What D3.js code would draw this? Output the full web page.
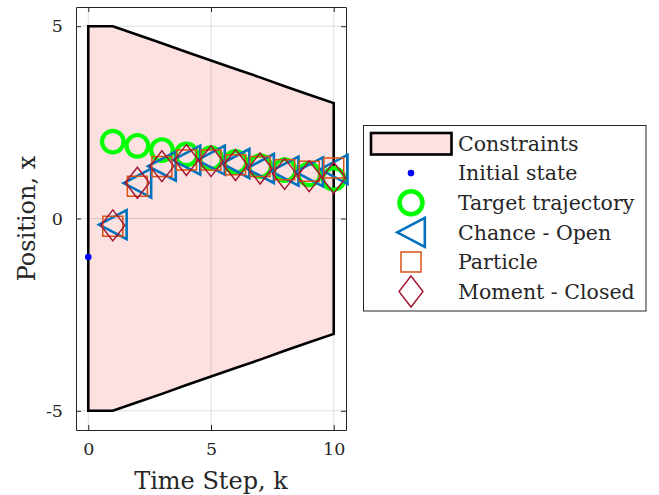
<!DOCTYPE html>
<html><head><meta charset="utf-8">
<script src="https://cdn.jsdelivr.net/npm/d3@7"></script>
<style>body{margin:0;background:#fff}svg{display:block}text{font-family:"DejaVu Serif",serif;fill:#262626}</style>
</head><body>
<svg id="c" width="659" height="495"></svg>
<script>
const steps = [1,2,3,4,5,6,7,8,9,10];
const constraintK = [0,1,2,3,4,5,6,7,8,9,10];
const upperBound = [5,5,4.78,4.56,4.33,4.11,3.89,3.67,3.44,3.22,3.0];
const lowerBound = [-5,-5,-4.78,-4.56,-4.33,-4.11,-3.89,-3.67,-3.44,-3.22,-3.0];
const initialState = [{k:0, x:-1.0}];
const target = [2.0,1.89,1.78,1.67,1.57,1.47,1.36,1.26,1.15,1.03];
const chanceOpen = [-0.16,0.92,1.36,1.52,1.52,1.43,1.30,1.23,1.21,1.28];
const particle = [-0.2,0.84,1.35,1.52,1.52,1.40,1.35,1.27,1.23,1.31];
const momentClosed = [-0.18,0.93,1.36,1.52,1.49,1.39,1.30,1.16,1.10,1.06];
const xTicks = [0,5,10];
const yTicks = [-5,0,5];
const legendLabels = ["Constraints","Initial state","Target trajectory","Chance - Open","Particle","Moment - Closed"];

const svg = d3.select("#c");
const L=76,R=346,T=7,B=430;
const x = d3.scaleLinear().domain([-0.5,10.5]).range([L,R]);
const y = d3.scaleLinear().domain([-5.5,5.5]).range([B,T]);
const fmt = d => String(d);

// constraints polygon
const poly = constraintK.map((k,i)=>[x(k),y(upperBound[i])])
  .concat(constraintK.map((k,i)=>[x(k),y(lowerBound[i])]).reverse());
svg.append("path").attr("d", d3.line()(poly)+"Z")
  .attr("fill","#fde1e1").attr("stroke","none");

// grid
const g = svg.append("g");
g.selectAll(".gx").data(xTicks).join("line").attr("x1",d=>x(d)).attr("x2",d=>x(d)).attr("y1",T).attr("y2",B)
  .attr("stroke","#000").attr("stroke-opacity",0.13).attr("stroke-width",1);
g.selectAll(".gy").data(yTicks).join("line").attr("y1",d=>y(d)).attr("y2",d=>y(d)).attr("x1",L).attr("x2",R)
  .attr("stroke","#000").attr("stroke-opacity",0.13).attr("stroke-width",1);

svg.append("path").attr("d", d3.line()(poly)+"Z")
  .attr("fill","none").attr("stroke","#000").attr("stroke-width",2.6).attr("stroke-linejoin","miter");

// axes box with inward ticks
function styleAxis(sel){sel.select(".domain").attr("stroke","#262626");sel.selectAll(".tick line").attr("stroke","#262626");}
const ab = svg.append("g").attr("transform",`translate(0,${B})`).call(d3.axisBottom(x).tickValues(xTicks).tickSize(-5).tickSizeOuter(0).tickPadding(13).tickFormat(fmt));
ab.call(styleAxis); ab.selectAll("text").attr("font-size",17.5).attr("font-family","DejaVu Serif").attr("fill","#262626");
const at = svg.append("g").attr("transform",`translate(0,${T})`).call(d3.axisTop(x).tickValues(xTicks).tickSize(-5).tickSizeOuter(0).tickFormat(""));
at.call(styleAxis);
const al = svg.append("g").attr("transform",`translate(${L},0)`).call(d3.axisLeft(y).tickValues(yTicks).tickSize(-5).tickSizeOuter(0).tickPadding(13).tickFormat(fmt));
al.call(styleAxis); al.selectAll("text").attr("font-size",17.5).attr("font-family","DejaVu Serif").attr("fill","#262626");
const ar = svg.append("g").attr("transform",`translate(${R},0)`).call(d3.axisRight(y).tickValues(yTicks).tickSize(-5).tickSizeOuter(0).tickFormat(""));
ar.call(styleAxis);

// markers
function tri(cx,cy){return `M${cx-13.8},${cy}L${cx+13.8},${cy-14.5}L${cx+13.8},${cy+14.5}Z`;}
function sq(cx,cy){return `M${cx-10},${cy-10}h20v20h-20Z`;}
function dia(cx,cy){return `M${cx},${cy-15.5}L${cx+12},${cy}L${cx},${cy+15.5}L${cx-12},${cy}Z`;}

svg.selectAll(".init").data(initialState).join("circle").attr("cx",d=>x(d.k)).attr("cy",d=>y(d.x)).attr("r",3.3).attr("fill","#0000ff");
svg.selectAll(".tgt").data(target).join("circle").attr("cx",(d,i)=>x(steps[i])).attr("cy",d=>y(d)).attr("r",10.8)
  .attr("fill","none").attr("stroke","#00ff00").attr("stroke-width",4.2);
svg.selectAll(".ch").data(chanceOpen).join("path").attr("d",(d,i)=>tri(x(steps[i]),y(d)))
  .attr("fill","none").attr("stroke","#0072bd").attr("stroke-width",2.6);
svg.selectAll(".pa").data(particle).join("path").attr("d",(d,i)=>sq(x(steps[i]),y(d)))
  .attr("fill","none").attr("stroke","#d95319").attr("stroke-width",1.5);
svg.selectAll(".mo").data(momentClosed).join("path").attr("d",(d,i)=>dia(x(steps[i]),y(d)))
  .attr("fill","none").attr("stroke","#a2142f").attr("stroke-width",1.4);

// axis labels
svg.append("text").attr("x",(L+R)/2).attr("y",489).attr("text-anchor","middle").attr("font-size",24).text("Time Step, k");
svg.append("text").attr("transform",`translate(35,${(T+B)/2}) rotate(-90)`).attr("text-anchor","middle").attr("font-size",24).text("Position, x");

// legend
const lg = svg.append("g");
lg.append("rect").attr("x",363.5).attr("y",125.5).attr("width",282.5).attr("height",185.5).attr("fill","#fff").attr("stroke","#262626").attr("stroke-width",1);
const rowY = legendLabels.map((d,i)=>143.5+i*29.6);
const mx = 411;
lg.append("rect").attr("x",371).attr("y",rowY[0]-10.5).attr("width",80.5).attr("height",21.5).attr("fill","#fde1e1").attr("stroke","#000").attr("stroke-width",2.6);
lg.append("circle").attr("cx",mx).attr("cy",rowY[1]).attr("r",3.3).attr("fill","#0000ff");
lg.append("circle").attr("cx",mx).attr("cy",rowY[2]).attr("r",11.5).attr("fill","none").attr("stroke","#00ff00").attr("stroke-width",4.5);
lg.append("path").attr("d",tri(mx,rowY[3])).attr("fill","none").attr("stroke","#0072bd").attr("stroke-width",2.6);
lg.append("path").attr("d",sq(mx,rowY[4])).attr("fill","none").attr("stroke","#d95319").attr("stroke-width",1.5);
lg.append("path").attr("d",dia(mx,rowY[5])).attr("fill","none").attr("stroke","#a2142f").attr("stroke-width",1.4);
lg.selectAll(".lt").data(legendLabels).join("text").attr("x",458).attr("y",(d,i)=>rowY[i]).attr("dy","0.36em")
  .attr("font-size",20.5).text(d=>d);
</script>
</body></html>
